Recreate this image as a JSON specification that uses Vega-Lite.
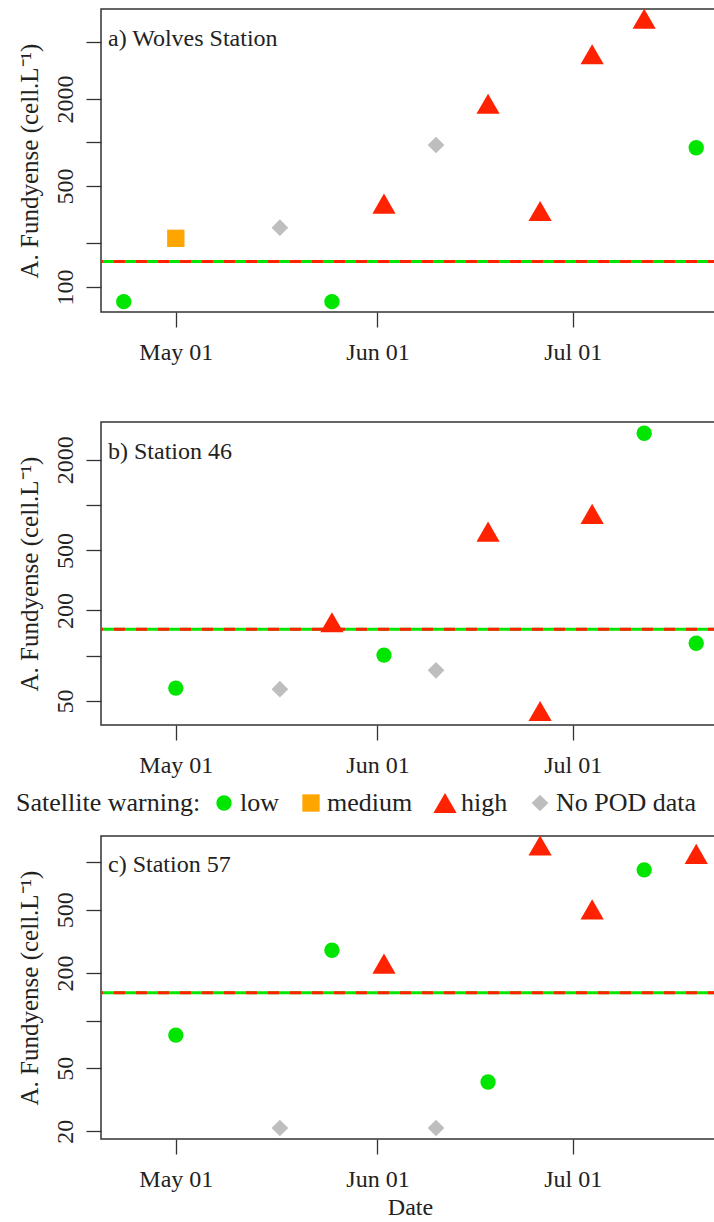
{
  "$schema": "https://vega.github.io/schema/vega-lite/v6.json",
  "padding": {"left": 16, "top": 7, "right": 0, "bottom": 0},
  "background": "white",
  "datasets": {
    "obs": [
      {"station": "a", "date": "2014/04/23", "value": 79, "warning": "low"},
      {"station": "a", "date": "2014/05/01", "value": 217, "warning": "medium"},
      {"station": "a", "date": "2014/05/17", "value": 257, "warning": "No POD data"},
      {"station": "a", "date": "2014/05/25", "value": 79, "warning": "low"},
      {"station": "a", "date": "2014/06/02", "value": 377, "warning": "high"},
      {"station": "a", "date": "2014/06/10", "value": 961, "warning": "No POD data"},
      {"station": "a", "date": "2014/06/18", "value": 1853, "warning": "high"},
      {"station": "a", "date": "2014/06/26", "value": 335, "warning": "high"},
      {"station": "a", "date": "2014/07/04", "value": 4083, "warning": "high"},
      {"station": "a", "date": "2014/07/12", "value": 7192, "warning": "high"},
      {"station": "a", "date": "2014/07/20", "value": 920, "warning": "low"},
      {"station": "b", "date": "2014/05/01", "value": 61, "warning": "low"},
      {"station": "b", "date": "2014/05/17", "value": 60, "warning": "No POD data"},
      {"station": "b", "date": "2014/05/25", "value": 167, "warning": "high"},
      {"station": "b", "date": "2014/06/02", "value": 101, "warning": "low"},
      {"station": "b", "date": "2014/06/10", "value": 80, "warning": "No POD data"},
      {"station": "b", "date": "2014/06/18", "value": 667, "warning": "high"},
      {"station": "b", "date": "2014/06/26", "value": 43, "warning": "high"},
      {"station": "b", "date": "2014/07/04", "value": 875, "warning": "high"},
      {"station": "b", "date": "2014/07/12", "value": 3000, "warning": "low"},
      {"station": "b", "date": "2014/07/20", "value": 121, "warning": "low"},
      {"station": "c", "date": "2014/05/01", "value": 81, "warning": "low"},
      {"station": "c", "date": "2014/05/17", "value": 21, "warning": "No POD data"},
      {"station": "c", "date": "2014/05/25", "value": 278, "warning": "low"},
      {"station": "c", "date": "2014/06/02", "value": 229, "warning": "high"},
      {"station": "c", "date": "2014/06/10", "value": 21, "warning": "No POD data"},
      {"station": "c", "date": "2014/06/18", "value": 41, "warning": "low"},
      {"station": "c", "date": "2014/06/26", "value": 1274, "warning": "high"},
      {"station": "c", "date": "2014/07/04", "value": 503, "warning": "high"},
      {"station": "c", "date": "2014/07/12", "value": 894, "warning": "low"},
      {"station": "c", "date": "2014/07/20", "value": 1127, "warning": "high"}
    ],
    "thr": [{"value": 150}]
  },
  "config": {
    "view": {"stroke": "#333333", "strokeWidth": 1.5},
    "font": "Liberation Serif",
    "axis": {
      "domain": false, "grid": false, "tickColor": "#333333", "tickWidth": 1.3, "tickSize": 15,
      "labelFont": "Liberation Serif", "labelFontSize": 24, "labelColor": "#222222",
      "titleFont": "Liberation Serif", "titleFontSize": 24, "titleFontWeight": "normal", "titleColor": "#222222",
      "labelOverlap": false, "labelFlush": false
    },
    "legend": {
      "labelFont": "Liberation Serif", "labelFontSize": 26, "labelColor": "#222222",
      "titleFont": "Liberation Serif", "titleFontSize": 26, "titleFontWeight": "normal", "titleColor": "#222222"
    },
    "title": {"font": "Liberation Serif", "fontSize": 24, "fontWeight": "normal", "color": "#222222"}
  },
  "spacing": 56,
  "resolve": {"scale": {"y": "independent", "x": "independent"}},
  "vconcat": [
    {
      "width": 618, "height": 303,
      "title": {"text": "a) Wolves Station", "anchor": "start", "frame": "group", "offset": -61, "baseline": "alphabetic", "dx": 7, "font": "Liberation Serif"},
      "encoding": {
        "y": {"field": "value", "type": "quantitative",
          "scale": {"type": "log", "domain": [67, 8400], "nice": false, "zero": false},
          "axis": {"values": [100, 200, 500, 1000, 2000, 5000], "format": "d",
            "labelExpr": "(datum.value == 100 || datum.value == 500 || datum.value == 2000) ? datum.label : ''",
            "labelAngle": -90, "labelAlign": "center", "labelBaseline": "alphabetic", "labelPadding": 14,
            "labelFont": "Liberation Serif", "titleFont": "Liberation Serif", "titleFontSize": 25,
            "title": "A. Fundyense  (cell.L⁻¹)", "titleBaseline": "alphabetic", "titlePadding": 16}}
      },
      "layer": [
        {"data": {"name": "thr"}, "mark": {"type": "rule", "color": "#00E600", "strokeWidth": 3}, "encoding": {}},
        {"data": {"name": "thr"}, "mark": {"type": "rule", "color": "#FF2200", "strokeWidth": 3, "strokeDash": [11, 11]}, "encoding": {}},
        {
          "data": {"name": "obs"},
          "transform": [{"filter": "datum.station == 'a'"}],
          "mark": {"type": "point", "filled": true, "opacity": 1, "strokeWidth": 0},
          "encoding": {
            "x": {"field": "date", "type": "temporal",
              "scale": {"domain": [{"year": 2014, "month": 4, "date": 19, "hours": 12}, {"year": 2014, "month": 7, "date": 23, "hours": 12}], "nice": false},
              "axis": {"values": [{"year": 2014, "month": 5, "date": 1}, {"year": 2014, "month": 6, "date": 1}, {"year": 2014, "month": 7, "date": 1}], "format": "%b %d", "labelPadding": 13, "labelFont": "Liberation Serif", "title": null}},
            "shape": {"field": "warning", "type": "nominal", "scale": {"domain": ["low", "medium", "high", "No POD data"], "range": ["circle", "square", "triangle-up", "diamond"]}},
            "color": {"field": "warning", "type": "nominal", "scale": {"domain": ["low", "medium", "high", "No POD data"], "range": ["#00E600", "#FFA500", "#FF2200", "#BEBEBE"]},
              "legend": {"orient": "none", "legendX": -85, "legendY": 781, "direction": "horizontal", "columns": 4, "title": "Satellite warning:", "titleOrient": "left", "titleBaseline": "middle", "titleLimit": 400, "titlePadding": 10, "labelLimit": 300, "labelOffset": 3, "columnPadding": 19, "symbolStrokeWidth": 0, "labelFont": "Liberation Serif", "titleFont": "Liberation Serif"}},
            "size": {"field": "warning", "type": "nominal", "scale": {"type": "ordinal", "domain": ["low", "medium", "high", "No POD data"], "range": [236, 300, 540, 278]}}
          }
        }
      ]
    },
    {
      "width": 618, "height": 303,
      "title": {"text": "b) Station 46", "anchor": "start", "frame": "group", "offset": -61, "baseline": "alphabetic", "dx": 7, "font": "Liberation Serif"},
      "encoding": {
        "y": {"field": "value", "type": "quantitative",
          "scale": {"type": "log", "domain": [34.7, 3560], "nice": false, "zero": false},
          "axis": {"values": [50, 100, 200, 500, 1000, 2000], "format": "d",
            "labelExpr": "(datum.value == 50 || datum.value == 200 || datum.value == 500 || datum.value == 2000) ? datum.label : ''",
            "labelAngle": -90, "labelAlign": "center", "labelBaseline": "alphabetic", "labelPadding": 14,
            "labelFont": "Liberation Serif", "titleFont": "Liberation Serif", "titleFontSize": 25,
            "title": "A. Fundyense  (cell.L⁻¹)", "titleBaseline": "alphabetic", "titlePadding": 16}}
      },
      "layer": [
        {"data": {"name": "thr"}, "mark": {"type": "rule", "color": "#00E600", "strokeWidth": 3}, "encoding": {}},
        {"data": {"name": "thr"}, "mark": {"type": "rule", "color": "#FF2200", "strokeWidth": 3, "strokeDash": [11, 11]}, "encoding": {}},
        {
          "data": {"name": "obs"},
          "transform": [{"filter": "datum.station == 'b'"}],
          "mark": {"type": "point", "filled": true, "opacity": 1, "strokeWidth": 0},
          "encoding": {
            "x": {"field": "date", "type": "temporal",
              "scale": {"domain": [{"year": 2014, "month": 4, "date": 19, "hours": 12}, {"year": 2014, "month": 7, "date": 23, "hours": 12}], "nice": false},
              "axis": {"values": [{"year": 2014, "month": 5, "date": 1}, {"year": 2014, "month": 6, "date": 1}, {"year": 2014, "month": 7, "date": 1}], "format": "%b %d", "labelPadding": 13, "labelFont": "Liberation Serif", "title": null}},
            "shape": {"field": "warning", "type": "nominal", "scale": {"domain": ["low", "medium", "high", "No POD data"], "range": ["circle", "square", "triangle-up", "diamond"]}},
            "color": {"field": "warning", "type": "nominal", "scale": {"domain": ["low", "medium", "high", "No POD data"], "range": ["#00E600", "#FFA500", "#FF2200", "#BEBEBE"]}},
            "size": {"field": "warning", "type": "nominal", "scale": {"type": "ordinal", "domain": ["low", "medium", "high", "No POD data"], "range": [236, 300, 540, 278]}}
          }
        }
      ]
    },
    {
      "width": 618, "height": 303,
      "title": {"text": "c) Station 57", "anchor": "start", "frame": "group", "offset": -61, "baseline": "alphabetic", "dx": 7, "font": "Liberation Serif"},
      "encoding": {
        "y": {"field": "value", "type": "quantitative",
          "scale": {"type": "log", "domain": [17.9, 1462], "nice": false, "zero": false},
          "axis": {"values": [20, 50, 100, 200, 500, 1000], "format": "d",
            "labelExpr": "(datum.value == 20 || datum.value == 50 || datum.value == 200 || datum.value == 500) ? datum.label : ''",
            "labelAngle": -90, "labelAlign": "center", "labelBaseline": "alphabetic", "labelPadding": 14,
            "labelFont": "Liberation Serif", "titleFont": "Liberation Serif", "titleFontSize": 25,
            "title": "A. Fundyense  (cell.L⁻¹)", "titleBaseline": "alphabetic", "titlePadding": 16}}
      },
      "layer": [
        {"data": {"name": "thr"}, "mark": {"type": "rule", "color": "#00E600", "strokeWidth": 3}, "encoding": {}},
        {"data": {"name": "thr"}, "mark": {"type": "rule", "color": "#FF2200", "strokeWidth": 3, "strokeDash": [11, 11]}, "encoding": {}},
        {
          "data": {"name": "obs"},
          "transform": [{"filter": "datum.station == 'c'"}],
          "mark": {"type": "point", "filled": true, "opacity": 1, "strokeWidth": 0},
          "encoding": {
            "x": {"field": "date", "type": "temporal",
              "scale": {"domain": [{"year": 2014, "month": 4, "date": 19, "hours": 12}, {"year": 2014, "month": 7, "date": 23, "hours": 12}], "nice": false},
              "axis": {"values": [{"year": 2014, "month": 5, "date": 1}, {"year": 2014, "month": 6, "date": 1}, {"year": 2014, "month": 7, "date": 1}], "format": "%b %d", "labelPadding": 13, "labelFont": "Liberation Serif", "title": "Date", "titleFont": "Liberation Serif", "titlePadding": 4}},
            "shape": {"field": "warning", "type": "nominal", "scale": {"domain": ["low", "medium", "high", "No POD data"], "range": ["circle", "square", "triangle-up", "diamond"]}},
            "color": {"field": "warning", "type": "nominal", "scale": {"domain": ["low", "medium", "high", "No POD data"], "range": ["#00E600", "#FFA500", "#FF2200", "#BEBEBE"]}},
            "size": {"field": "warning", "type": "nominal", "scale": {"type": "ordinal", "domain": ["low", "medium", "high", "No POD data"], "range": [236, 300, 540, 278]}}
          }
        }
      ]
    }
  ]
}
